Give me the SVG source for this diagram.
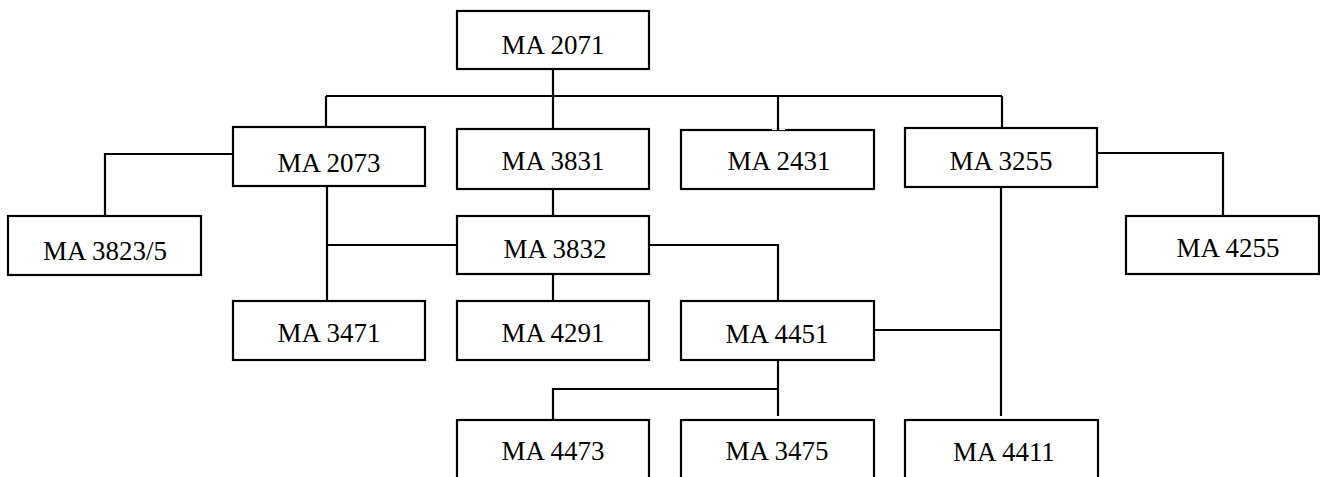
<svg xmlns="http://www.w3.org/2000/svg" width="1320" height="477" viewBox="0 0 1320 477">
<style>
.box{fill:#fff;stroke:#000;stroke-width:2.2}
.lbl{font-family:"Liberation Serif","Times New Roman",serif;font-size:27px;fill:#000;text-anchor:middle}
.con{fill:none;stroke:#000;stroke-width:2.2}
</style>
<rect x="0" y="0" width="1320" height="477" fill="#fff"/>
<g id="connectors">
<path class="con" d="M553,69 V129"/>
<path class="con" d="M326,96 H1002"/>
<path class="con" d="M326,96 V127"/>
<path class="con" d="M778,96 V130"/>
<path class="con" d="M1002,96 V128"/>
<path class="con" d="M233,154 H105 V216"/>
<path class="con" d="M327,186 V301"/>
<path class="con" d="M327,245 H457"/>
<path class="con" d="M553,189 V216"/>
<path class="con" d="M649,245 H778 V301"/>
<path class="con" d="M553,274 V301"/>
<path class="con" d="M1097,153 H1223 V216"/>
<path class="con" d="M1001,187 V416"/>
<path class="con" d="M874,330 H1001"/>
<path class="con" d="M778,360 V416"/>
<path class="con" d="M778,389 H553 V420"/>
</g>
<g id="n2071"><rect class="box" x="457" y="11" width="192" height="58"/><text class="lbl" x="553" y="54">MA 2071</text></g>
<g id="n2073"><rect class="box" x="233" y="127" width="192" height="59"/><text class="lbl" x="329" y="171.5">MA 2073</text></g>
<g id="n3831"><rect class="box" x="457" y="129" width="192" height="60"/><text class="lbl" x="553" y="170">MA 3831</text></g>
<g id="n2431"><rect class="box" x="681" y="130" width="193" height="59"/><rect x="772" y="129" width="13" height="1.1" fill="#fff"/><path class="con" d="M778,128 V131"/><text class="lbl" x="779" y="170">MA 2431</text></g>
<g id="n3255"><rect class="box" x="905" y="128" width="192" height="59"/><text class="lbl" x="1001" y="169.5">MA 3255</text></g>
<g id="n38235"><rect class="box" x="8" y="216" width="193" height="59"/><text class="lbl" x="105" y="260">MA 3823/5</text></g>
<g id="n3832"><rect class="box" x="457" y="216" width="192" height="58"/><text class="lbl" x="555" y="257.5">MA 3832</text></g>
<g id="n4255"><rect class="box" x="1126" y="216" width="193" height="58"/><text class="lbl" x="1228" y="256.5">MA 4255</text></g>
<g id="n3471"><rect class="box" x="233" y="301" width="192" height="59"/><text class="lbl" x="329" y="342">MA 3471</text></g>
<g id="n4291"><rect class="box" x="457" y="301" width="192" height="59"/><text class="lbl" x="553" y="341.7">MA 4291</text></g>
<g id="n4451"><rect class="box" x="681" y="301" width="193" height="59"/><text class="lbl" x="777" y="342.5">MA 4451</text></g>
<g id="n4473"><rect class="box" x="457" y="420" width="192" height="60"/><text class="lbl" x="553" y="460">MA 4473</text></g>
<g id="n3475"><rect class="box" x="681" y="420" width="193" height="60"/><text class="lbl" x="777" y="460">MA 3475</text></g>
<g id="n4411"><rect class="box" x="905" y="420" width="193" height="60"/><text class="lbl" x="1004" y="460.5">MA 4411</text></g>
</svg>
